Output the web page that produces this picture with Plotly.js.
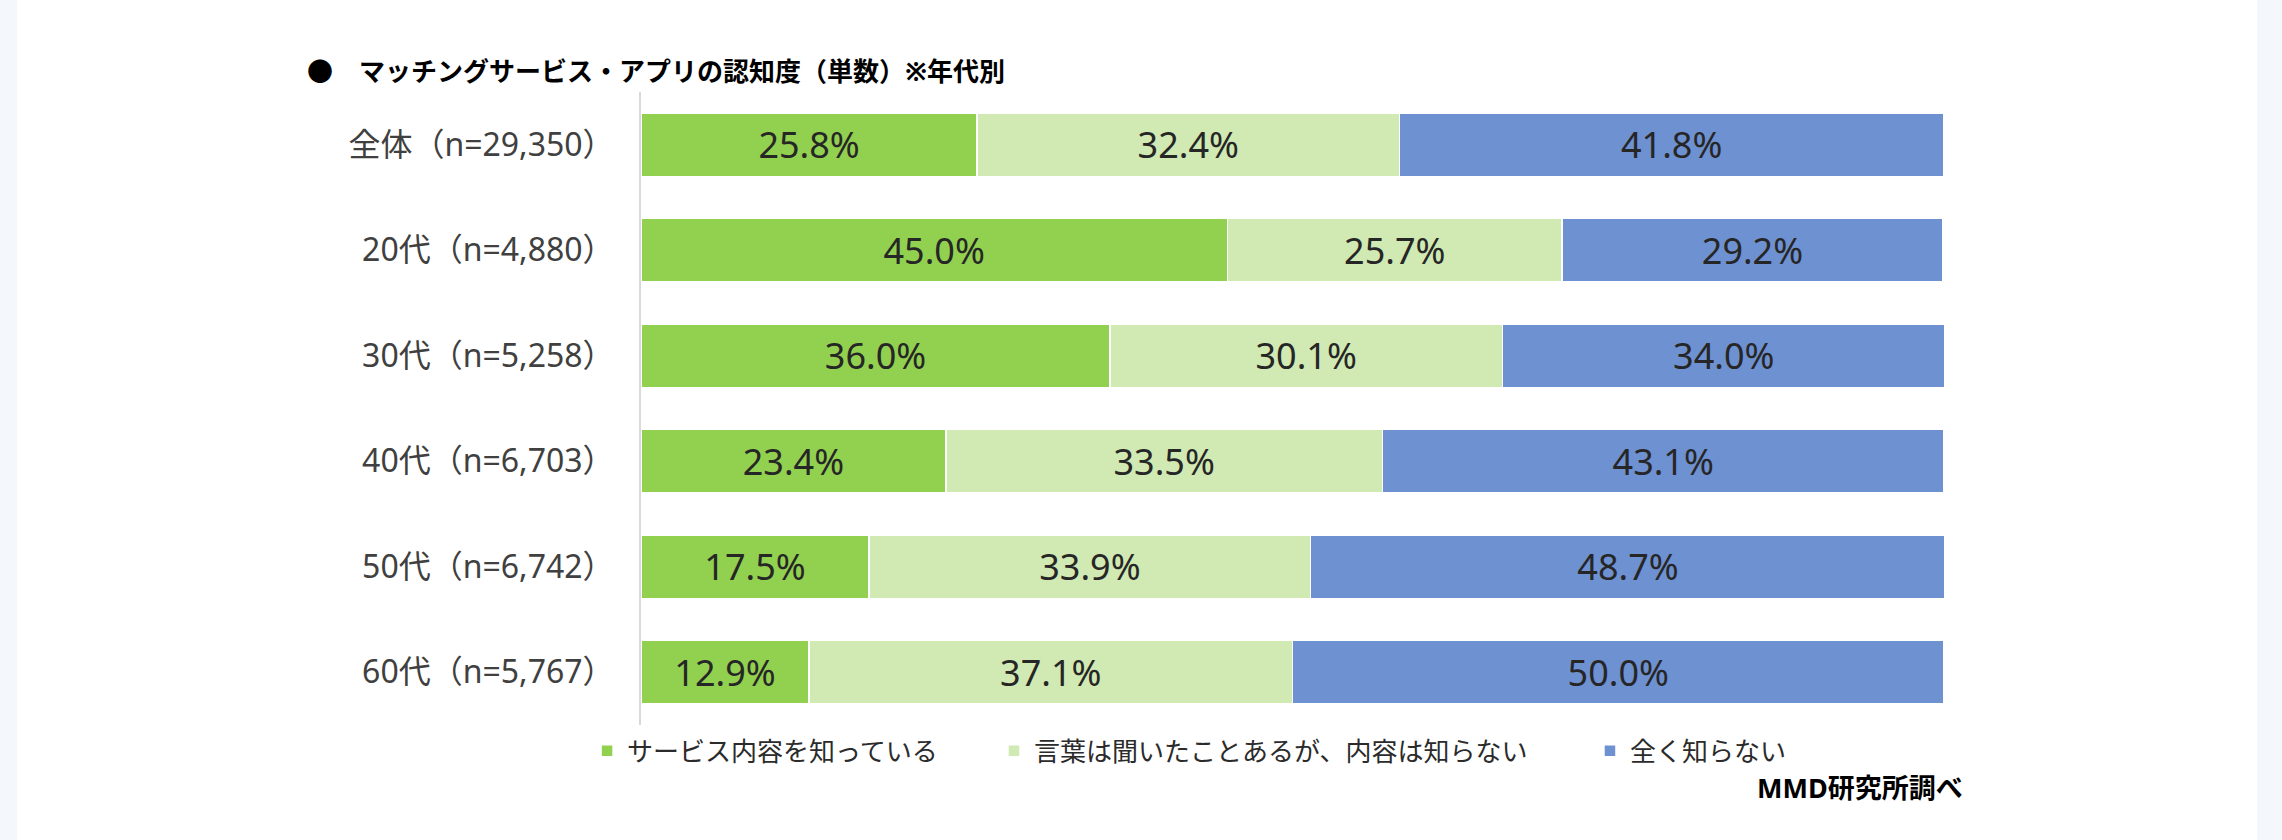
<!DOCTYPE html>
<html>
<head>
<meta charset="utf-8">
<script src="https://cdn.plot.ly/plotly-3.0.1.min.js"></script>
<style>
  html, body { margin: 0; padding: 0; background: #f4f8fc; width: 2282px; height: 840px; overflow: hidden; }
  #chart { position: absolute; left: 17px; top: 0; width: 2240px; height: 840px; background: #ffffff; }
</style>
</head>
<body>
<div id="chart"></div>
<script>
// ---- data ----
const categories = ["全体（n=29,350）", "20代（n=4,880）", "30代（n=5,258）", "40代（n=6,703）", "50代（n=6,742）", "60代（n=5,767）"];
const seriesNames = ["サービス内容を知っている", "言葉は聞いたことあるが、内容は知らない", "全く知らない"];
const knowService = [25.8, 45.0, 36.0, 23.4, 17.5, 12.9];
const heardOnly   = [32.4, 25.7, 30.1, 33.5, 33.9, 37.1];
const notKnow     = [41.8, 29.2, 34.0, 43.1, 48.7, 50.0];
const titleText = "●　マッチングサービス・アプリの認知度（単数）※年代別";
const sourceText = "MMD研究所調べ";

// ---- styles ----
const colors = ["#92D050", "#D1E9B2", "#6E91D1"];
const FONT = "Noto Sans, Noto Sans CJK JP, sans-serif";
const seriesValues = [knowService, heardOnly, notKnow];
const legendIds = ["legend", "legend2", "legend3"];

const traces = seriesValues.map((vals, i) => ({
  type: "bar",
  orientation: "h",
  name: seriesNames[i],
  y: categories,
  x: vals,
  marker: { color: colors[i], line: { color: "#ffffff", width: 1.5 } },
  text: vals.map(v => v.toFixed(1) + "%"),
  textposition: "inside",
  insidetextanchor: "middle",
  constraintext: "none",
  textfont: { family: FONT, size: 36, color: "#262626" },
  legend: legendIds[i],
  hoverinfo: "skip"
}));

const legendBase = {
  orientation: "h",
  yanchor: "middle",
  y: -0.041,
  xanchor: "left",
  bgcolor: "rgba(0,0,0,0)",
  borderwidth: 0,
  font: { family: FONT, size: 26, color: "#2b2b2b" }
};

const layout = {
  width: 2240,
  height: 840,
  margin: { l: 624, r: 313, t: 92, b: 115 },
  paper_bgcolor: "#ffffff",
  plot_bgcolor: "#ffffff",
  barmode: "stack",
  bargap: 0.4,
  showlegend: true,
  title: {
    text: titleText,
    font: { family: FONT, size: 26, color: "#000000", weight: "bold" },
    xref: "container", x: 290 / 2240, xanchor: "left",
    yref: "container", y: 1 - 72 / 840, yanchor: "middle"
  },
  xaxis: { range: [0, 100], visible: false, fixedrange: true },
  yaxis: {
    autorange: "reversed",
    showline: true, linecolor: "#d9d9d9", linewidth: 2,
    showgrid: false, zeroline: false, ticks: "",
    ticklabelstandoff: 18,
    tickfont: { family: FONT, size: 32, color: "#404040" },
    fixedrange: true
  },
  legend:  Object.assign({}, legendBase, { x: -0.0414 }),
  legend2: Object.assign({}, legendBase, { x: 0.2709 }),
  legend3: Object.assign({}, legendBase, { x: 0.7283 }),
  annotations: [{
    text: sourceText,
    xref: "paper", yref: "paper",
    x: 1.0161, y: -0.098, xanchor: "right", yanchor: "middle",
    showarrow: false,
    font: { family: FONT, size: 27, color: "#000000", weight: "bold" }
  }]
};

Plotly.newPlot("chart", traces, layout, { staticPlot: true, displayModeBar: false });
</script>
</body>
</html>
